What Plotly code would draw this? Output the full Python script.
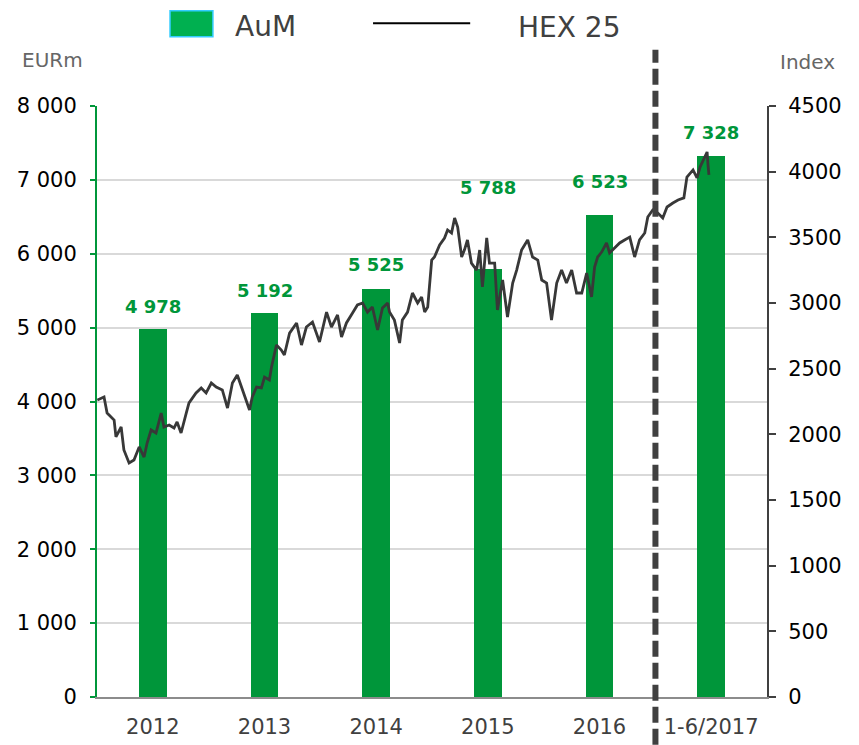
import plotly.graph_objects as go

# AuM per period (EURm)
periods = ['2012', '2013', '2014', '2015', '2016', '1-6/2017']
aum = [4978, 5192, 5525, 5788, 6523, 7328]

# HEX 25 index
hex_dates = [
    '2012-01-02', '2012-01-24', '2012-02-03', '2012-02-26', '2012-03-03', '2012-03-20',
    '2012-03-29', '2012-04-15', '2012-05-01', '2012-05-18', '2012-06-03', '2012-06-13',
    '2012-06-26', '2012-07-12', '2012-07-29', '2012-08-07', '2012-08-24', '2012-09-09',
    '2012-09-19', '2012-10-02', '2012-10-19', '2012-10-28', '2012-11-20', '2012-12-07',
    '2012-12-23', '2013-01-09', '2013-01-25', '2013-02-14', '2013-03-03', '2013-03-19',
    '2013-04-04', '2013-04-21', '2013-05-04', '2013-05-14', '2013-05-23', '2013-06-06',
    '2013-06-22', '2013-07-02', '2013-07-18', '2013-07-25', '2013-08-10', '2013-08-26',
    '2013-09-05', '2013-09-22', '2013-10-15', '2013-10-31', '2013-11-16', '2013-12-06',
    '2013-12-29', '2014-01-21', '2014-02-06', '2014-02-26', '2014-03-11', '2014-03-27',
    '2014-04-16', '2014-05-02', '2014-05-19', '2014-06-04', '2014-06-20', '2014-07-07',
    '2014-07-23', '2014-08-09', '2014-08-15', '2014-08-31', '2014-09-17', '2014-09-26',
    '2014-10-13', '2014-10-29', '2014-11-15', '2014-11-28', '2014-12-08', '2014-12-18',
    '2014-12-31', '2015-01-09', '2015-01-26', '2015-02-11', '2015-02-21', '2015-03-06',
    '2015-03-16', '2015-03-26', '2015-04-08', '2015-04-17', '2015-04-27', '2015-05-10',
    '2015-05-27', '2015-06-06', '2015-06-15', '2015-06-29', '2015-07-08', '2015-07-25',
    '2015-08-03', '2015-08-20', '2015-09-05', '2015-09-22', '2015-10-05', '2015-10-21',
    '2015-11-10', '2015-11-26', '2015-12-13', '2015-12-26', '2016-01-11', '2016-01-27',
    '2016-02-13', '2016-02-29', '2016-03-16', '2016-04-02', '2016-04-18', '2016-05-05',
    '2016-05-21', '2016-06-06', '2016-06-16', '2016-06-26', '2016-07-09', '2016-07-25',
    '2016-08-04', '2016-08-21', '2016-09-06', '2016-09-22', '2016-10-09', '2016-10-25',
    '2016-11-10', '2016-11-27', '2016-12-07', '2016-12-23', '2017-01-09', '2017-01-25',
    '2017-02-08', '2017-02-27', '2017-03-16', '2017-04-04', '2017-04-14', '2017-05-04',
    '2017-05-17', '2017-05-27', '2017-06-06', '2017-06-19', '2017-06-22', '2017-06-25',
]
hex_values = [
    2261, 2284, 2162, 2109, 1980, 2056,
    1881, 1782, 1805, 1904, 1827, 1934,
    2033, 2010, 2162, 2056, 2071, 2048,
    2094, 2010, 2162, 2239, 2315, 2353,
    2315, 2391, 2360, 2338, 2200, 2391,
    2452, 2338, 2261, 2185, 2284, 2360,
    2353, 2436, 2414, 2513, 2680, 2642,
    2604, 2771, 2848, 2680, 2817, 2855,
    2703, 2931, 2817, 2909, 2741, 2848,
    2924, 2985, 3000, 2931, 2969, 2794,
    2962, 3000, 2931, 2870, 2695, 2870,
    2931, 3076, 3000, 3046, 2931, 2969,
    3327, 3350, 3442, 3495, 3556, 3533,
    3647, 3579, 3350, 3403, 3480, 3304,
    3251, 3403, 3122, 3495, 3304, 3304,
    2947, 3175, 2893, 3152, 3251, 3403,
    3480, 3350, 3327, 3175, 3152, 2870,
    3152, 3251, 3152, 3251, 3076, 3076,
    3228, 3046, 3274, 3350, 3388, 3457,
    3381, 3419, 3457, 3480, 3502, 3350,
    3480, 3533, 3655, 3708, 3685, 3647,
    3731, 3761, 3784, 3800, 3959, 4013,
    3952, 4035, 4089, 4150, 4051, 3975,
]

GREEN = '#00963A'
FONT = 'DejaVu Sans'

# labels over 2015/2016 are lifted clear of the index line, as in the original
label_lift = [10, 10, 12, 69, 21, 11]

fig = go.Figure()

fig.add_trace(go.Bar(
    x=periods, y=aum, width=0.25,
    marker=dict(color=GREEN, line=dict(width=0)),
    showlegend=False,
))

fig.add_trace(go.Scatter(
    x=hex_dates, y=hex_values, xaxis='x2', yaxis='y2',
    mode='lines', line=dict(color='#383838', width=2.8),
    showlegend=False,
))

# value labels above the bars (category index, since the labels look numeric)
for i, v in enumerate(aum):
    fig.add_annotation(
        x=i, y=v, xref='x', yref='y', yanchor='bottom', yshift=label_lift[i],
        text=f"{v:,}".replace(',', ' '), showarrow=False,
        font=dict(family=FONT, size=18, color=GREEN, weight='bold'),
    )

# dashed separator at the start of 2017
fig.add_shape(
    type='line', xref='x2', yref='paper',
    x0='2017-01-01', x1='2017-01-01', y0=-0.081, y1=1.095,
    line=dict(color='#404040', width=6, dash='16px,6px'),
)

# legend drawn by hand to match the large swatches
fig.add_shape(
    type='rect', xref='paper', yref='paper',
    x0=0.109, x1=0.173, y0=1.117, y1=1.161,
    fillcolor='#00B050', line=dict(color='#33CCFF', width=1.5),
)
fig.add_annotation(
    x=0.203, y=1.135, xref='paper', yref='paper', xanchor='left', yanchor='middle',
    text='AuM', showarrow=False, font=dict(family=FONT, size=28, color='#404040'),
)
fig.add_shape(
    type='line', xref='paper', yref='paper',
    x0=0.412, x1=0.557, y0=1.140, y1=1.140,
    line=dict(color='#000000', width=2),
)
fig.add_annotation(
    x=0.625, y=1.132, xref='paper', yref='paper', xanchor='left', yanchor='middle',
    text='HEX 25', showarrow=False, font=dict(family=FONT, size=28, color='#404040'),
)

# axis titles
fig.add_annotation(
    x=-0.066, y=1.078, xref='paper', yref='paper', xanchor='center', yanchor='middle',
    text='EURm', showarrow=False, font=dict(family=FONT, size=20, color='#666666'),
)
fig.add_annotation(
    x=1.06, y=1.075, xref='paper', yref='paper', xanchor='center', yanchor='middle',
    text='Index', showarrow=False, font=dict(family=FONT, size=20, color='#666666'),
)

# the page body adds an 8px margin, so the figure is 8px smaller and shifted
fig.update_layout(
    width=851, height=737,
    margin=dict(l=89, r=92, t=98, b=48),
    paper_bgcolor='white', plot_bgcolor='white',
    separators='. ',
    font=dict(family=FONT, size=20, color='#000000'),
    bargap=0,
    xaxis=dict(
        type='category', range=[-0.5, 5.5],
        showline=True, linecolor='#8c8c8c', linewidth=2,
        ticks='', showgrid=False,
        tickfont=dict(family=FONT, size=21, color='#404040'),
        ticklabelstandoff=10, automargin=False,
    ),
    xaxis2=dict(
        type='date', overlaying='x', range=['2012-01-01', '2018-01-01'],
        visible=False,
    ),
    yaxis=dict(
        range=[0, 8000], dtick=1000, tickformat=',',
        showline=True, linecolor=GREEN, linewidth=2,
        ticks='outside', ticklen=5, tickwidth=2, tickcolor=GREEN,
        showgrid=True, gridcolor='#d9d9d9', gridwidth=1.5,
        zeroline=False,
        tickfont=dict(family=FONT, size=21, color='#000000'),
        ticklabelstandoff=9, automargin=False,
    ),
    yaxis2=dict(
        range=[0, 4500], dtick=500, overlaying='y', side='right', anchor='x2',
        showline=True, linecolor='#404040', linewidth=2,
        ticks='outside', ticklen=7, tickwidth=2, tickcolor='#404040',
        showgrid=False, zeroline=False,
        tickfont=dict(family=FONT, size=21, color='#000000'),
        ticklabelstandoff=8, automargin=False,
    ),
)

fig.write_html("out.html")
